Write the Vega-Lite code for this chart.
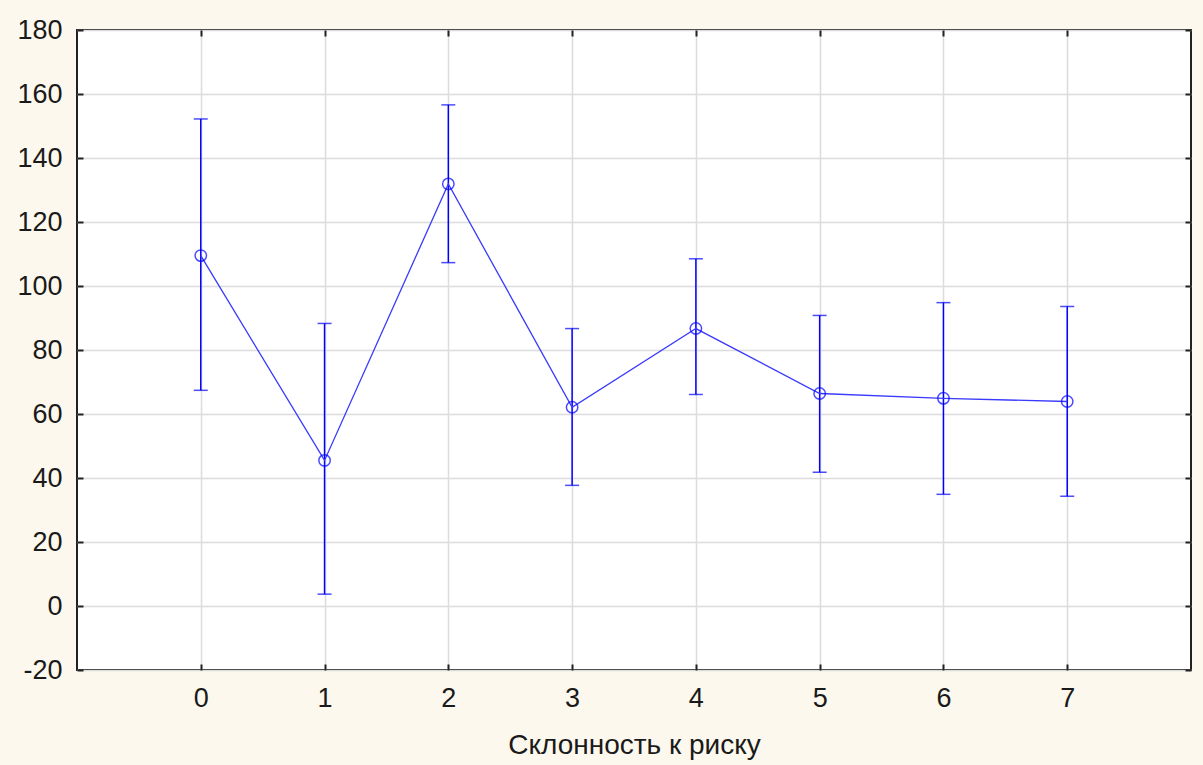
{
  "$schema": "https://vega.github.io/schema/vega-lite/v6.json",
  "width": 1114,
  "height": 640,
  "autosize": {"type": "none"},
  "padding": {"left": 77, "top": 30, "right": 12, "bottom": 95},
  "background": "#fdf8ee",
  "config": {
    "view": {"fill": "white", "stroke": "#222222", "strokeWidth": 2},
    "font": "Liberation Sans",
    "axis": {"labelFont": "Liberation Sans", "titleFont": "Liberation Sans", "labelColor": "#1a1a1a", "titleColor": "#1a1a1a", "titleFontWeight": "normal"}
  },
  "data": {
    "values": [
      {"x": 0, "mean": 109.5, "lo": 67.4, "hi": 152.2},
      {"x": 1, "mean": 45.5, "lo": 3.7, "hi": 88.3},
      {"x": 2, "mean": 131.9, "lo": 107.3, "hi": 156.6},
      {"x": 3, "mean": 62.1, "lo": 37.7, "hi": 86.7},
      {"x": 4, "mean": 86.7, "lo": 66.1, "hi": 108.5},
      {"x": 5, "mean": 66.4, "lo": 41.8, "hi": 90.8},
      {"x": 6, "mean": 64.9, "lo": 34.9, "hi": 94.8},
      {"x": 7, "mean": 63.9, "lo": 34.3, "hi": 93.6}
    ]
  },
  "resolve": {"axis": {"x": "independent", "y": "independent"}},
  "layer": [
    {
      "mark": {"type": "rule", "color": "#0000ff", "strokeWidth": 1.5},
      "encoding": {
        "x": {
          "field": "x", "type": "quantitative",
          "scale": {"domain": [-1, 8], "nice": false, "zero": false},
          "axis": {
            "values": [0, 1, 2, 3, 4, 5, 6, 7],
            "title": "Склонность к риску",
            "titleFontSize": 28, "titlePadding": 20,
            "labelFontSize": 27, "labelPadding": 21,
            "tickSize": -6, "tickColor": "#222222", "tickWidth": 2,
            "domain": false,
            "gridColor": "#dcdcdc", "gridWidth": 1.5
          }
        },
        "y": {
          "field": "lo", "type": "quantitative",
          "scale": {"domain": [-20, 180], "nice": false, "zero": false},
          "axis": {
            "values": [-20, 0, 20, 40, 60, 80, 100, 120, 140, 160, 180],
            "labelExpr": "datum.value + ''",
            "title": null,
            "labelFontSize": 27, "labelPadding": 21,
            "tickSize": -6, "tickColor": "#222222", "tickWidth": 2,
            "domain": false,
            "gridColor": "#dcdcdc", "gridWidth": 1.5
          }
        },
        "y2": {"field": "hi"}
      }
    },
    {
      "mark": {"type": "point", "opacity": 0},
      "encoding": {
        "x": {
          "field": "x", "type": "quantitative",
          "axis": {
            "orient": "top", "values": [0, 1, 2, 3, 4, 5, 6, 7],
            "labels": false, "title": null, "grid": false, "domain": false,
            "tickSize": -6, "tickColor": "#222222", "tickWidth": 2
          }
        },
        "y": {
          "field": "mean", "type": "quantitative",
          "axis": {
            "orient": "right", "values": [-20, 0, 20, 40, 60, 80, 100, 120, 140, 160, 180],
            "labels": false, "title": null, "grid": false, "domain": false,
            "tickSize": -6, "tickColor": "#222222", "tickWidth": 2
          }
        }
      }
    },
    {
      "mark": {"type": "tick", "orient": "horizontal", "color": "#0000ff", "size": 14, "thickness": 1.5},
      "encoding": {
        "x": {"field": "x", "type": "quantitative", "axis": null},
        "y": {"field": "lo", "type": "quantitative", "axis": null}
      }
    },
    {
      "mark": {"type": "tick", "orient": "horizontal", "color": "#0000ff", "size": 14, "thickness": 1.5},
      "encoding": {
        "x": {"field": "x", "type": "quantitative", "axis": null},
        "y": {"field": "hi", "type": "quantitative", "axis": null}
      }
    },
    {
      "mark": {"type": "line", "color": "#3a3aff", "strokeWidth": 1.3},
      "encoding": {
        "x": {"field": "x", "type": "quantitative", "axis": null},
        "y": {"field": "mean", "type": "quantitative", "axis": null}
      }
    },
    {
      "mark": {"type": "point", "shape": "circle", "filled": false, "color": "#0000ff", "size": 130, "strokeWidth": 1.5},
      "encoding": {
        "x": {"field": "x", "type": "quantitative", "axis": null},
        "y": {"field": "mean", "type": "quantitative", "axis": null}
      }
    }
  ]
}
